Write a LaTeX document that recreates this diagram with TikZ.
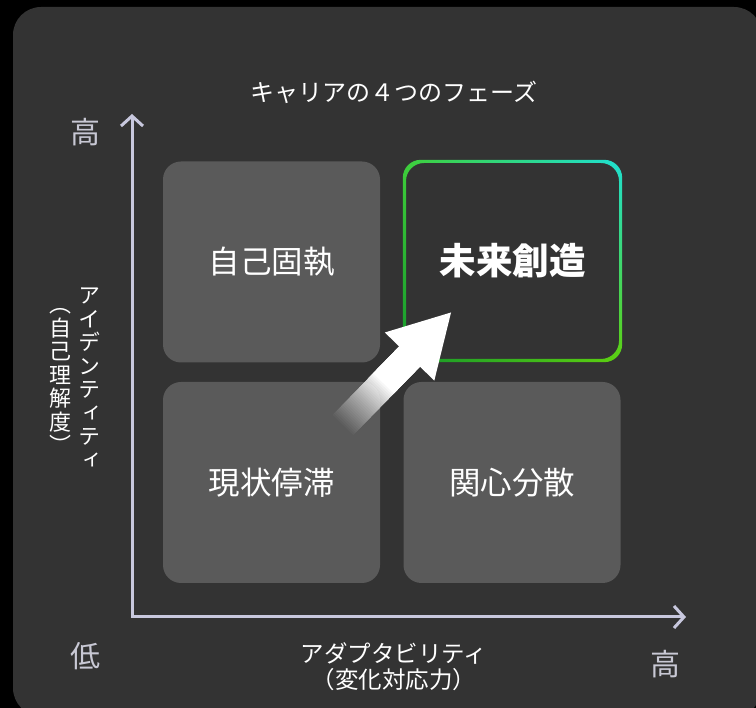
\documentclass[tikz,border=0pt]{standalone}
\usepackage{fontspec}
\setmainfont{Noto Sans CJK JP}
\newfontfamily\vfont[RawFeature=+vert]{Noto Sans CJK JP}
\usetikzlibrary{arrows.meta,shadings}
\definecolor{panel}{HTML}{333333}
\definecolor{cellgray}{HTML}{5A5A5A}
\definecolor{axiscol}{HTML}{C8C8DE}
\definecolor{hilo}{HTML}{C8C8D4}
\definecolor{gUL}{HTML}{3FCF3A}
\definecolor{gUR}{HTML}{1FE0D2}
\definecolor{gLL}{HTML}{14962A}
\definecolor{gLR}{HTML}{5ED00E}
\tikzset{
  cellbox/.style={fill=cellgray, rounded corners=18pt, minimum width=217pt, minimum height=201pt, inner sep=0pt, text=white, font=\fontsize{31.5}{36}\selectfont},
  hotbox/.style={minimum width=219pt, minimum height=202pt, inner sep=0pt, text=white, font=\fontsize{36.5}{40}\selectfont\bfseries},
  titletext/.style={text=white, inner sep=0pt, font=\fontsize{24}{28}\selectfont},
  axlabel/.style={text=white, inner sep=0pt, font=\fontsize{23.5}{28}\selectfont, align=center},
  hilotext/.style={text=hilo, inner sep=0pt, font=\fontsize{30}{34}\selectfont},
  vtext/.style={text=white, inner sep=0pt, align=center, font=\vfont\fontsize{22}{23.5}\selectfont},
  axisline/.style={draw=axiscol, line width=3pt, line join=miter, {Straight Barb[length=10pt,width=22pt]}-{Straight Barb[length=10pt,width=22pt]}}
}
\begin{document}
\begin{tikzpicture}[x=1pt,y=-1pt]
\fill[black] (0,0) rectangle (756,708);
\useasboundingbox (0,0) rectangle (756,708);
\clip (0,0) rectangle (756,708);
\fill[panel, rounded corners=28pt] (13,7) rectangle (762,716);

% title
\node[titletext] (title) at (394,92) {キャリアの４つのフェーズ};

% quadrants
\node[cellbox] (q1) at (271.5,262) {自己固執};
\node[cellbox] (q3) at (271.5,482.5) {現状停滞};
\node[cellbox] (q4) at (512,482.5) {関心分散};
\node[hotbox] (q2) at (512.5,261) {未来創造};
\shade[shading=bilinear interpolation, upper left=gUL, upper right=gUR, lower left=gLL, lower right=gLR, even odd rule, rounded corners=18pt]
  (q2.north west) rectangle (q2.south east)
  ([shift={(3.2,3.2)}]q2.north west) rectangle ([shift={(-3.2,-3.2)}]q2.south east);

% big arrow
\begin{scope}[shift={(343,425)}, rotate=45.8]
  \foreach \i [evaluate=\i as \op using {1/(30-\i)}] in {0,...,29}{
    \fill[white, opacity=\op] (2*\i,-14.5) rectangle (96,14.5);
  }
  \fill[white] (95.5,-34.5) -- (156,-1) -- (95.5,34.5) -- cycle;
\end{scope}

% axes
\coordinate (O) at (132,617);
\coordinate (ytip) at (132,114);
\coordinate (xtip) at (686,617);
\draw[axisline] (ytip) -- (O) -- (xtip);

% axis labels
\node[hilotext] (hiY) at (85,132) {高};
\node[hilotext] (lo) at (85,656) {低};
\node[hilotext] (hiX) at (665,664) {高};
\node[axlabel] (xlab1) at (394,653) {アダプタビリティ};
\node[axlabel] (xlab2) at (394,680) {（変化対応力）};
\node[vtext] (vid) at (89,378) {ア\\イ\\デ\\ン\\テ\\ィ\\テ\\ィ};
\node[vtext] (vsub) at (60,381) {︵\\自\\己\\理\\解\\度\\︶};
\end{tikzpicture}
\end{document}
